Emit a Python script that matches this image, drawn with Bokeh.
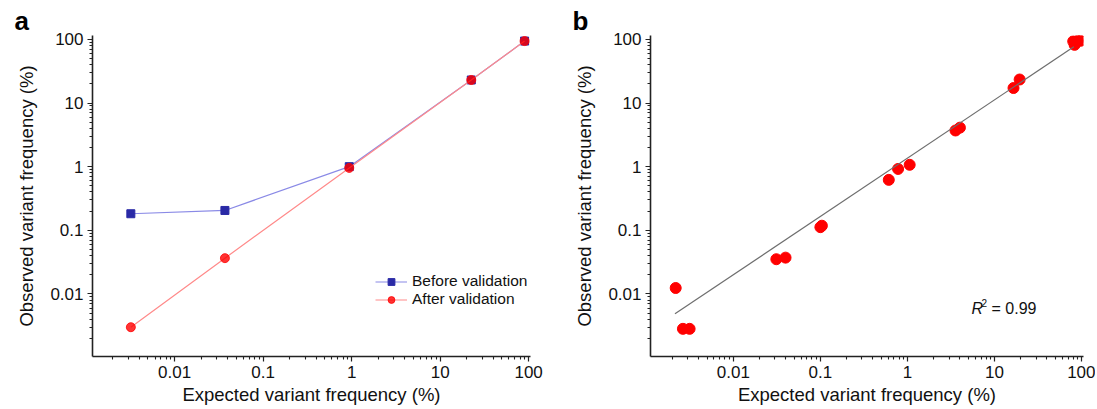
import numpy as np
from bokeh.plotting import figure
from bokeh.layouts import row
from bokeh.models import FixedTicker, NumeralTickFormatter, Label, Legend, LegendItem
from bokeh.embed import file_html
from bokeh.resources import INLINE

# ---------------- data ----------------
# Panel a
a_expected = [0.0032, 0.037, 0.94, 22.5, 90]
a_before = [0.182, 0.205, 1.0, 23, 94]
a_after = [0.0030, 0.0365, 0.955, 23, 94]
a_labels = ["Before validation", "After validation"]

# Panel b
b_expected = [0.00218, 0.00264, 0.00315, 0.0312, 0.0398, 0.100, 0.104, 0.61, 0.78, 1.06,
              3.56, 4.0, 16.5, 19.4, 80, 83, 90, 97]
b_observed = [0.0124, 0.00283, 0.00283, 0.0351, 0.0372, 0.112, 0.118, 0.62, 0.92, 1.07,
              3.7, 4.1, 17.2, 23.4, 93, 82, 95, 95]
fit_x = [0.00214, 81.3]
fit_y = [0.00487, 76.6]
r2_value = "0.99"

major_ticks = [0.01, 0.1, 1, 10, 100]
minor_ticks = [m * 10.0 ** e for e in range(-3, 3) for m in range(2, 10)]

x_title = "Expected variant frequency (%)"
y_title = "Observed variant frequency (%)"
panel_letters = ["a", "b"]

FONT = "Liberation Sans"
FRAME_TOP = 35
FRAME_H = 321


def style(p, letter, left_border):
    p.outline_line_color = None
    p.xgrid.visible = False
    p.ygrid.visible = False
    p.background_fill_color = "white"
    p.border_fill_color = "white"
    for ax in (p.xaxis[0], p.yaxis[0]):
        ax.ticker = FixedTicker(ticks=major_ticks, minor_ticks=minor_ticks)
        ax.formatter = NumeralTickFormatter(format="0.[00]")
        ax.axis_line_width = 1.6
        ax.axis_line_color = "#222222"
        ax.major_tick_line_color = "#222222"
        ax.minor_tick_line_color = "#222222"
        ax.major_tick_line_width = 1.2
        ax.minor_tick_line_width = 1.1
        ax.major_tick_in = 0
        ax.major_tick_out = 5
        ax.minor_tick_in = 0
        ax.minor_tick_out = 3
        ax.major_label_standoff = 4
        ax.major_label_text_font = FONT
        ax.major_label_text_font_size = "17px"
        ax.major_label_text_color = "#111111"
        ax.axis_label_text_font = FONT
        ax.axis_label_text_font_size = "18.5px"
        ax.axis_label_text_font_style = "normal"
        ax.axis_label_text_color = "#111111"
    p.xaxis[0].axis_label_standoff = 3
    p.yaxis[0].axis_label_standoff = 10
    p.title.text = letter
    p.title.text_font = FONT
    p.title.text_font_size = "26px"
    p.title.text_font_style = "bold"
    p.title.text_color = "#000000"
    p.title.align = "left"
    p.title.offset = 14 - left_border
    p.title.standoff = 0


# ---------------- panel a ----------------
p1 = figure(x_axis_type="log", y_axis_type="log",
            x_range=(0.00118, 105), y_range=(0.00104, 115),
            frame_width=438, frame_height=FRAME_H,
            min_border_left=92, min_border_right=20, min_border_top=FRAME_TOP, min_border_bottom=0,
            x_axis_label=x_title, y_axis_label=y_title,
            output_backend="svg", toolbar_location=None)
style(p1, panel_letters[0], 92)

lb = p1.line(a_expected, a_before, line_color="#8a8ae6", line_width=1.2)
sb = p1.scatter(a_expected, a_before, marker="square", size=8,
                fill_color="#2a2aa6", line_color="#2a2aa6")
la = p1.line(a_expected, a_after, line_color="#ff8a8a", line_width=1.2)
sa = p1.scatter(a_expected, a_after, marker="circle", size=9,
                fill_color="#ff0000", line_color="#ff0000", fill_alpha=0.8, line_alpha=0.8)

frame_bottom = FRAME_TOP + FRAME_H
legend = Legend(items=[LegendItem(label=a_labels[0], renderers=[lb, sb]),
                       LegendItem(label=a_labels[1], renderers=[la, sa])],
                location=(283, frame_bottom - 308), margin=0, padding=0, spacing=0,
                glyph_width=32, glyph_height=17, label_height=17, label_standoff=5,
                label_text_font=FONT, label_text_font_size="15.5px", label_text_color="#111111",
                border_line_color=None, background_fill_alpha=0)
p1.add_layout(legend)

# ---------------- panel b ----------------
p2 = figure(x_axis_type="log", y_axis_type="log",
            x_range=(0.00112, 105), y_range=(0.00104, 115),
            frame_width=433, frame_height=FRAME_H,
            min_border_left=100, min_border_right=12, min_border_top=FRAME_TOP, min_border_bottom=0,
            x_axis_label=x_title, y_axis_label=y_title,
            output_backend="svg", toolbar_location=None)
style(p2, panel_letters[1], 100 + 550 - 572 + 14)

p2.scatter(b_expected, b_observed, marker="circle", size=11,
           fill_color="#ff0000", line_color="#ff0000")
p2.line(fit_x, fit_y, line_color="#6e6e6e", line_width=1.2)

base_y = frame_bottom - 308
p2.add_layout(Label(x=321, y=base_y, x_units="screen", y_units="screen", text="R",
                    text_font=FONT, text_font_style="italic", text_font_size="16px",
                    text_color="#111111", text_baseline="alphabetic"))
p2.add_layout(Label(x=331, y=base_y + 6, x_units="screen", y_units="screen", text="2",
                    text_font=FONT, text_font_size="10px",
                    text_color="#111111", text_baseline="alphabetic"))
p2.add_layout(Label(x=341, y=base_y, x_units="screen", y_units="screen", text="= " + r2_value,
                    text_font=FONT, text_font_size="16px",
                    text_color="#111111", text_baseline="alphabetic"))

layout = row(p1, p2)
open("out.html", "w").write(file_html(layout, INLINE))
